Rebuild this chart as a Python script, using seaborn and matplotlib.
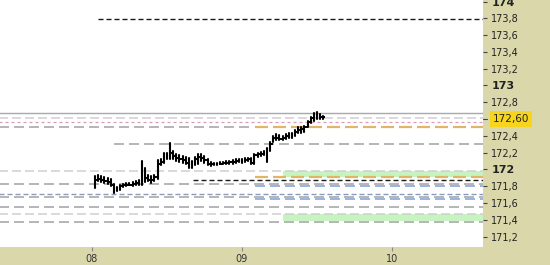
import numpy as np
import pandas as pd
import matplotlib
matplotlib.use("Agg")
import matplotlib.pyplot as plt
import seaborn as sns

# ---------------- data ----------------
day_ticks = [8, 9, 10]
day_labels = ["08", "09", "10"]
y_ticks = [171.2, 171.4, 171.6, 171.8, 172.0, 172.2, 172.4, 172.8,
           173.0, 173.2, 173.4, 173.6, 173.8, 174.0]
last_price = 172.60

opens = [171.80, 171.88, 171.89, 171.87, 171.86, 171.85, 171.81, 171.76,
         171.77, 171.80, 171.81, 171.82, 171.82, 171.83, 171.84, 171.85,
         171.93, 171.90, 171.88, 171.87, 171.91, 172.06, 172.09, 172.15,
         172.16, 172.20, 172.16, 172.14, 172.12, 172.11, 172.08, 172.05,
         172.07, 172.13, 172.15, 172.14, 172.11, 172.07, 172.06, 172.06,
         172.07, 172.07, 172.08, 172.08, 172.09, 172.09, 172.10, 172.11,
         172.10, 172.11, 172.12, 172.08, 172.17, 172.18, 172.19, 172.20,
         172.24, 172.30, 172.37, 172.38, 172.36, 172.38, 172.40, 172.41,
         172.42, 172.45, 172.47, 172.48, 172.50, 172.56, 172.61, 172.64,
         172.63, 172.62]
highs = [171.92, 171.93, 171.92, 171.91, 171.90, 171.89, 171.83, 171.79,
         171.82, 171.83, 171.84, 171.84, 171.85, 171.86, 171.87, 172.10,
         172.02, 171.94, 171.92, 171.93, 172.11, 172.13, 172.20, 172.20,
         172.32, 172.22, 172.19, 172.17, 172.16, 172.15, 172.14, 172.10,
         172.15, 172.19, 172.18, 172.16, 172.13, 172.09, 172.08, 172.08,
         172.09, 172.09, 172.10, 172.10, 172.11, 172.12, 172.13, 172.13,
         172.14, 172.14, 172.14, 172.19, 172.20, 172.21, 172.22, 172.26,
         172.33, 172.40, 172.42, 172.41, 172.40, 172.42, 172.43, 172.44,
         172.47, 172.50, 172.50, 172.52, 172.58, 172.63, 172.67, 172.69,
         172.66, 172.64]
lows = [171.78, 171.86, 171.85, 171.84, 171.83, 171.80, 171.72, 171.74,
        171.76, 171.79, 171.80, 171.81, 171.80, 171.81, 171.82, 171.81,
        171.85, 171.86, 171.84, 171.86, 171.89, 172.05, 172.08, 172.12,
        172.13, 172.12, 172.10, 172.09, 172.08, 172.06, 172.02, 172.02,
        172.05, 172.07, 172.10, 172.08, 172.05, 172.04, 172.05, 172.05,
        172.06, 172.06, 172.07, 172.07, 172.07, 172.08, 172.09, 172.08,
        172.09, 172.10, 172.06, 172.07, 172.15, 172.16, 172.17, 172.09,
        172.22, 172.33, 172.35, 172.35, 172.35, 172.36, 172.37, 172.38,
        172.40, 172.43, 172.44, 172.45, 172.50, 172.55, 172.58, 172.60,
        172.60, 172.60]
closes = [171.88, 171.89, 171.87, 171.86, 171.85, 171.81, 171.76, 171.77,
          171.80, 171.81, 171.82, 171.82, 171.83, 171.84, 171.85, 171.93,
          171.90, 171.88, 171.87, 171.91, 172.06, 172.09, 172.15, 172.16,
          172.20, 172.16, 172.14, 172.12, 172.11, 172.08, 172.05, 172.07,
          172.13, 172.15, 172.14, 172.11, 172.07, 172.06, 172.06, 172.07,
          172.07, 172.08, 172.08, 172.09, 172.09, 172.10, 172.11, 172.10,
          172.11, 172.12, 172.08, 172.17, 172.18, 172.19, 172.20, 172.24,
          172.30, 172.37, 172.38, 172.36, 172.38, 172.40, 172.41, 172.42,
          172.45, 172.47, 172.48, 172.50, 172.56, 172.61, 172.64, 172.63,
          172.62, 172.62]

# half-hour bars starting on day 08 at 00:30
bar_times = pd.date_range("2024-01-08 00:30", periods=len(closes), freq="30min")

# horizontal levels: value, start day, end day
level_values = [173.79, 172.673, 172.61, 172.565, 172.51, 172.51, 172.30,
                171.98, 171.905, 171.87, 171.83, 171.80, 171.705, 171.667,
                171.65, 171.548, 171.464, 171.373]
level_start = [8.04, 7.38, 7.38, 7.38, 7.38, 9.087, 8.147,
               7.38, 9.087, 8.673, 7.38, 9.087, 7.38, 7.38,
               9.087, 7.38, 7.38, 7.38]
level_end = [10.61, 10.61, 10.61, 10.61, 9.08, 10.61, 10.61,
             10.61, 10.61, 10.61, 10.61, 10.61, 10.61, 10.61,
             10.61, 10.61, 10.61, 10.61]
level_kind = ["black", "solid", "light", "pink", "gray", "orange", "gray",
              "light", "orange", "black", "gray", "blue", "bluegray", "gray",
              "blue", "gray", "light", "gray"]

zone_low = [171.905, 171.381]
zone_high = [171.98, 171.473]
zone_start = 9.273

# ---------------- styles ----------------
PX = 0.72  # points per pixel at 100 dpi
styles = {
    "black":    dict(color="#1a1a1a", lw=1.0, ls=(0, (5 * PX, 3 * PX))),
    "solid":    dict(color="#a8a8a8", lw=1.0, ls="-"),
    "light":    dict(color="#cfcfcf", lw=1.1, ls=(0, (9 * PX, 4 * PX))),
    "pink":     dict(color="#d99cbc", lw=0.9, ls=(0, (3 * PX, 3 * PX))),
    "gray":     dict(color="#a2a2a2", lw=1.1, ls=(0, (10 * PX, 5 * PX))),
    "orange":   dict(color="#e2b466", lw=1.6, ls=(0, (13 * PX, 5 * PX))),
    "blue":     dict(color="#7f9ed8", lw=1.1, ls=(0, (10 * PX, 5 * PX))),
    "bluegray": dict(color="#8a9ab8", lw=1.0, ls=(0, (5 * PX, 3 * PX))),
}

BEIGE = "#dad7ab"

sns.set_theme(style="white")
plt.rcParams["lines.scale_dashes"] = False
plt.rcParams["font.family"] = ["DejaVu Sans"]

fig = plt.figure(figsize=(5.5, 2.65), dpi=100, facecolor=BEIGE)
ax = fig.add_axes([0, 18 / 265, 483 / 550, 247 / 265])
ax.set_facecolor("white")

# day as float
t0 = pd.Timestamp("2024-01-01")
tdays = 1 + (bar_times - t0) / pd.Timedelta(days=1)

# green zones
for lo, hi in zip(zone_low, zone_high):
    ax.fill_between([zone_start, 10.61], lo, hi, color="#c6f3bf", lw=0, zorder=1)

# levels
for v, s, e, k in zip(level_values, level_start, level_end, level_kind):
    st = styles[k]
    ax.plot([s, e], [v, v], color=st["color"], lw=st["lw"], ls=st["ls"], zorder=2)

# OHLC bars: high-low ranges via seaborn
df = pd.DataFrame({"t": np.concatenate([tdays, tdays]),
                   "price": np.concatenate([highs, lows]),
                   "bar": np.concatenate([np.arange(len(highs))] * 2)})
sns.lineplot(data=df, x="t", y="price", units="bar", estimator=None,
             color="black", lw=1.5, ax=ax, zorder=4, legend=False)
w = 1.4 / 150
ax.hlines(opens, tdays - w, tdays, color="black", lw=1.4, zorder=4)
ax.hlines(closes, tdays, tdays + w, color="black", lw=1.4, zorder=4)

ax.set_xlim(7.3867, 10.6067)
ax.set_ylim(171.077, 174.018)
ax.set_xlabel("")
ax.set_ylabel("")

for sp in ax.spines.values():
    sp.set_visible(False)

ax.set_xticks(day_ticks)
ax.set_xticklabels(day_labels)
ax.yaxis.tick_right()
ax.set_yticks(y_ticks)
ylabels = []
for v in y_ticks:
    if abs(v - round(v)) < 1e-9:
        ylabels.append(f"{int(round(v))}")
    else:
        ylabels.append(f"{v:.1f}".replace(".", ","))
ax.set_yticklabels(ylabels)
ax.tick_params(axis="y", direction="out", length=3, width=0.8, color="#444444",
               pad=3, labelsize=7, labelcolor="#222222", right=True)
ax.tick_params(axis="x", direction="out", length=3, width=0.8, color="#888888",
               pad=2, labelsize=7, labelcolor="#333333", bottom=True)
for lab, v in zip(ax.get_yticklabels(), y_ticks):
    if abs(v - round(v)) < 1e-9:
        lab.set_fontweight("bold")
        lab.set_fontsize(8)

# last price tag
ax.annotate(f"{last_price:.2f}".replace(".", ","), xy=(1.0, last_price),
            xycoords=("axes fraction", "data"), xytext=(7, 0),
            textcoords="offset points", va="center", ha="left",
            fontsize=7.5, color="#222222",
            bbox=dict(boxstyle="square,pad=0.25", fc="#f7d51c", ec="none"))
ax.plot([1.0, 1.008], [last_price, last_price], transform=ax.get_yaxis_transform(),
        color="#444444", lw=0.8, clip_on=False)

fig.savefig("out.png", dpi=100, facecolor=BEIGE)
